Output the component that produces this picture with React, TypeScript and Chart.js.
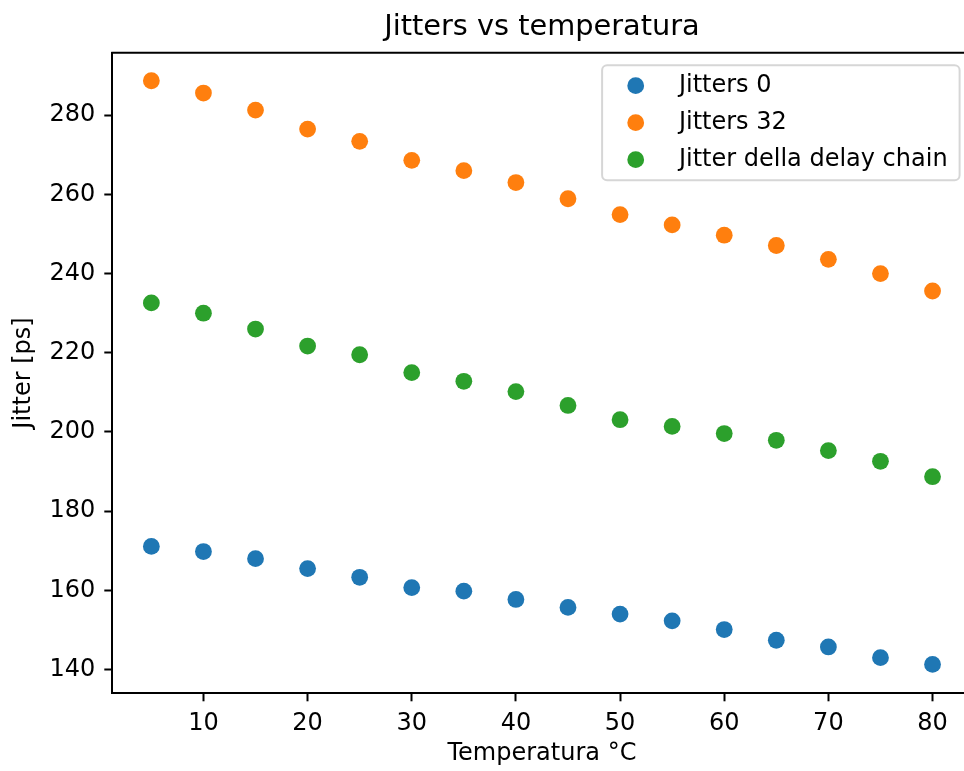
import React, { useEffect, useRef } from 'react';
import { Chart, registerables } from 'chart.js';

Chart.register(...registerables);

const temperatures = [5, 10, 15, 20, 25, 30, 35, 40, 45, 50, 55, 60, 65, 70, 75, 80];
const jitters0 = [171.1, 169.8, 168.0, 165.5, 163.3, 160.7, 159.8, 157.7, 155.7, 154.0, 152.3, 150.1, 147.4, 145.7, 143.0, 141.3];
const jitters32 = [288.7, 285.6, 281.3, 276.5, 273.4, 268.6, 266.0, 263.0, 258.9, 254.9, 252.3, 249.7, 247.1, 243.6, 240.0, 235.6];
const jitterDelayChain = [232.6, 230.0, 226.0, 221.7, 219.5, 215.0, 212.8, 210.2, 206.7, 203.1, 201.4, 199.6, 197.9, 195.3, 192.6, 188.7];

const seriesLabels = ['Jitters 0', 'Jitters 32', 'Jitter della delay chain'];
const seriesColors = ['#1f77b4', '#ff7f0e', '#2ca02c'];

const xTicks = [10, 20, 30, 40, 50, 60, 70, 80];
const yTicks = [140, 160, 180, 200, 220, 240, 260, 280];

const titleText = 'Jitters vs temperatura';
const xTitle = 'Temperatura °C';
const yTitle = 'Jitter [ps]';

const FONT = "'DejaVu Sans', sans-serif";

// top spine (the right spine lies outside the visible picture)
const framePlugin = {
  id: 'mplFrame',
  afterDraw(chart: any) {
    const { ctx, chartArea: a } = chart;
    ctx.save();
    ctx.strokeStyle = '#000';
    ctx.lineWidth = 2;
    ctx.beginPath();
    ctx.moveTo(a.left - 1, a.top);
    ctx.lineTo(a.right + 1, a.top);
    ctx.stroke();
    ctx.restore();
  },
};

const legendPlugin = {
  id: 'mplLegend',
  afterDraw(chart: any) {
    const { ctx, chartArea: a } = chart;
    const fs = 24;
    ctx.save();
    ctx.font = `${fs}px ${FONT}`;
    const items = chart.data.datasets.map((d: any) => ({ text: d.label, color: d.backgroundColor }));
    const maxW = Math.max(...items.map((i: any) => ctx.measureText(i.text).width));
    const padL = 9.6, handle = 48, gap = 19.2, padR = 12;
    const rowH = 37, padT = 20.5;
    const w = padL + handle + gap + maxW + padR;
    const h = padT * 2 + rowH * (items.length - 1);
    const right = a.right - 12;
    const left = right - w;
    const top = a.top + 12.5;
    ctx.beginPath();
    ctx.roundRect(left, top, w, h, 5);
    ctx.fillStyle = 'rgba(255,255,255,0.8)';
    ctx.fill();
    ctx.strokeStyle = 'rgba(204,204,204,0.8)';
    ctx.lineWidth = 2;
    ctx.stroke();
    items.forEach((it: any, i: number) => {
      const cy = top + padT + i * rowH;
      ctx.beginPath();
      ctx.arc(left + padL + handle / 2, cy, 8.4, 0, Math.PI * 2);
      ctx.fillStyle = it.color;
      ctx.fill();
      ctx.fillStyle = '#000';
      ctx.textBaseline = 'middle';
      ctx.textAlign = 'left';
      ctx.fillText(it.text, left + padL + handle + gap, cy);
    });
    ctx.restore();
  },
};

const seriesValues = [jitters0, jitters32, jitterDelayChain];

export default function App() {
  const ref = useRef<HTMLCanvasElement>(null);
  useEffect(() => {
    Chart.defaults.font.family = FONT;
    const chart = new Chart(ref.current as HTMLCanvasElement, {
      type: 'scatter',
      data: {
        datasets: seriesValues.map((vals, si) => ({
          label: seriesLabels[si],
          data: temperatures.map((t, i) => ({ x: t, y: vals[i] })),
          backgroundColor: seriesColors[si],
          borderColor: seriesColors[si],
          borderWidth: 0,
          pointRadius: 8.4,
          pointHoverRadius: 8.4,
        })),
      },
      options: {
        responsive: false,
        animation: false,
        devicePixelRatio: 1,
        layout: { padding: { left: 0, right: 4.8, top: 0, bottom: 0 } },
        plugins: {
          legend: { display: false },
          tooltip: { enabled: false },
          title: {
            display: true,
            text: titleText,
            fullSize: false,
            color: '#000',
            font: { size: 28.8, family: FONT, weight: 'normal' },
            padding: { top: 10.5, bottom: 7.6 },
          },
        },
        scales: {
          x: {
            type: 'linear',
            position: 'bottom',
            min: 1.25,
            max: 83.75,
            afterBuildTicks: (s: any) => {
              s.ticks = xTicks.map((v) => ({ value: v }));
            },
            afterFit: (s: any) => {
              s.height = 77.7;
              s.paddingLeft = 0;
              s.paddingRight = 0;
            },
            grid: { display: true, drawOnChartArea: false, drawTicks: true, tickLength: 8, tickWidth: 2, tickColor: '#000' },
            border: { display: true, color: '#000', width: 2 },
            ticks: { padding: 8, color: '#000', font: { size: 24, family: FONT }, maxRotation: 0, autoSkip: false },
            title: { display: true, text: xTitle, color: '#000', font: { size: 24, family: FONT }, padding: { top: 0, bottom: 2.6 } },
          },
          y: {
            type: 'linear',
            position: 'left',
            min: 134.0,
            max: 295.8,
            afterBuildTicks: (s: any) => {
              s.ticks = yTicks.map((v) => ({ value: v }));
            },
            afterFit: (s: any) => {
              s.width = 112.3;
              s.paddingTop = 0;
              s.paddingBottom = 0;
            },
            grid: { display: true, drawOnChartArea: false, drawTicks: true, tickLength: 8, tickWidth: 2, tickColor: '#000' },
            border: { display: true, color: '#000', width: 2 },
            ticks: { padding: 9, color: '#000', font: { size: 24, family: FONT }, autoSkip: false },
            title: { display: true, text: yTitle, color: '#000', font: { size: 24, family: FONT }, padding: { top: 9.5, bottom: 0 } },
          },
        },
      },
      plugins: [framePlugin, legendPlugin],
    } as any);
    return () => chart.destroy();
  }, []);
  return (
    <div style={{ position: 'fixed', left: 0, top: 0, width: 964, height: 771, overflow: 'hidden', background: '#fff' }}>
      <canvas ref={ref} width={980} height={771} style={{ display: 'block' }} />
    </div>
  );
}
